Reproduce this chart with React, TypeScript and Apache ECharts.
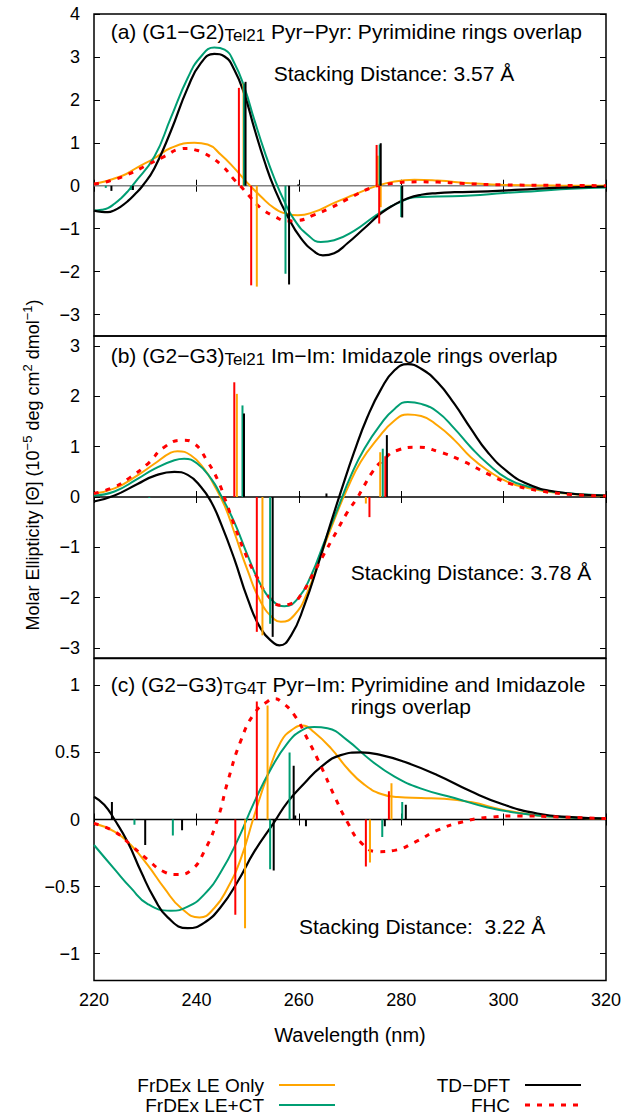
import React, { useEffect, useRef } from "react";
import * as echarts from "echarts";

const FONT = "'Liberation Sans', Arial, Helvetica, sans-serif";

const COLOR_LE = "#FFA500";
const COLOR_CT = "#009E73";
const COLOR_TD = "#000000";
const COLOR_FHC = "#FF0000";

const X_MIN = 220;
const X_MAX = 320;
const X_STEP = 20;

const yTicksA = [-3, -2, -1, 0, 1, 2, 3, 4];
const yTicksB = [-3, -2, -1, 0, 1, 2, 3];
const yTicksC = [-1, -0.5, 0, 0.5, 1];

// ---- (a) (G1-G2) Tel21, Pyr-Pyr ----
const leOnlyA = [
  [220, 0.04], [225.3, 0.22], [228.5, 0.43], [231.8, 0.64], [235, 0.88], [239.6, 1.0],
  [242.2, 0.96], [244.8, 0.72], [247.4, 0.41], [250, 0.06], [252.6, -0.25], [255.2, -0.52],
  [257.8, -0.66], [259.8, -0.69], [263, -0.61], [266.9, -0.4], [270.8, -0.21], [274.8, -0.02],
  [278.7, 0.1], [282.6, 0.14], [287.1, 0.12], [293.6, 0.06], [300.1, 0.02], [310, 0.005], [320, 0],
];
const leCtA = [
  [220, -0.58], [221.5, -0.56], [222.7, -0.52], [224, -0.42], [225.3, -0.29], [226.6, -0.13],
  [227.9, 0.06], [231.8, 0.68], [235, 1.58],
  [238.3, 2.51], [240.9, 3.01], [243.5, 3.22], [245.5, 3.17], [247.4, 2.86], [249.4, 2.28],
  [251.3, 1.54], [253.3, 0.8], [255.2, 0.18], [257.2, -0.37], [259.1, -0.79], [261.7, -1.14],
  [264.3, -1.31], [266.9, -1.27], [270.8, -1.05], [274.8, -0.71], [277.4, -0.52], [280, -0.37],
  [282.6, -0.27], [287.1, -0.25], [293.6, -0.23], [300.1, -0.17], [306.6, -0.12], [313.2, -0.07],
  [320, -0.04],
];
const tddftA = [
  [220, -0.58], [221.5, -0.61], [222.7, -0.615], [224, -0.57], [225.3, -0.48], [226.6, -0.36],
  [227.9, -0.21], [229.5, 0], [231.8, 0.41],
  [235, 1.27], [238.3, 2.28], [240.9, 2.86], [243.5, 3.07], [245.5, 3.01], [247.4, 2.7],
  [249.4, 2.12], [251.3, 1.34], [253.3, 0.57], [255.2, -0.05], [257.8, -0.71], [260.4, -1.22],
  [263, -1.53], [264.7, -1.62], [266.9, -1.57], [269.5, -1.34], [272.8, -0.99], [276.1, -0.64],
  [278.7, -0.44], [281.3, -0.29], [283.9, -0.21], [287.1, -0.17], [290.4, -0.15], [296.9, -0.13],
  [303.4, -0.09], [309.9, -0.05], [320, -0.02],
];
const fhcA = [
  [220, 0.04], [222.7, 0.1], [226.6, 0.26], [230.5, 0.49], [233.7, 0.68], [237, 0.86],
  [238.3, 0.87], [239.6, 0.84], [241.5, 0.76], [244.8, 0.49], [247.4, 0.14], [248.7, -0.02], [250.7, -0.29],
  [252.6, -0.52], [255.2, -0.71], [257.8, -0.82], [259.8, -0.81], [263, -0.68], [266.3, -0.51],
  [270.2, -0.27], [274.1, -0.05], [277.4, 0.04], [283.2, 0.09], [287.1, 0.085], [292.3, 0.05],
  [300.1, 0.02], [309.9, 0.01], [320, 0],
];
const leOnlySticksA = [[249.2, 2.38], [251.8, -2.35], [275.4, 0.7], [276.0, -0.5]];
const leCtSticksA = [[222.3, -0.05], [227.2, -0.1], [249.3, 2.38], [257.4, -2.05], [275.8, 0.96], [280.0, -0.73]];
const tddftSticksA = [[223.4, -0.12], [227.6, -0.1], [249.6, 2.42], [258.1, -2.3], [259.9, 0.03], [276.0, 0.99], [280.2, -0.74]];
const fhcSticksA = [[248.3, 2.28], [250.7, -2.32], [275.2, 0.95], [275.7, -0.88]];

// ---- (b) (G2-G3) Tel21, Im-Im ----
const leOnlyB = [
  [220, 0.07], [224, 0.17], [228.5, 0.43], [231.8, 0.66], [235, 0.88], [236.3, 0.91],
  [238.9, 0.83], [241.5, 0.56], [243.5, 0.23], [245.5, -0.17], [247.4, -0.7], [250, -1.46],
  [252.6, -2.09], [255.2, -2.43], [256.5, -2.48], [259.1, -2.35], [261.7, -1.89], [264.3, -1.16],
  [266.9, -0.46], [269.5, 0.17], [272.1, 0.7], [275.4, 1.16], [278.7, 1.52], [281.3, 1.64],
  [283.9, 1.61], [287.1, 1.42], [290.4, 1.13], [293.6, 0.79], [296.9, 0.53], [300.8, 0.3],
  [304.7, 0.18], [309.9, 0.09], [320, 0.02],
];
const leCtB = [
  [220, 0.03], [224, 0.11], [228.5, 0.36], [231.8, 0.56], [235.7, 0.73], [237.6, 0.76],
  [240.2, 0.66], [242.9, 0.36], [244.8, 0.03], [247.4, -0.5], [250, -1.16], [252.6, -1.75],
  [255.2, -2.09], [257.2, -2.17], [259.8, -2.02], [262.4, -1.56], [265, -0.89], [267.6, -0.23],
  [270.2, 0.43], [272.8, 0.96], [276.1, 1.46], [278.7, 1.75], [281.3, 1.89], [283.9, 1.85],
  [287.1, 1.69], [290.4, 1.36], [293.6, 0.99], [296.9, 0.66], [300.8, 0.36], [304.7, 0.21],
  [309.9, 0.1], [320, 0.03],
];
const tddftB = [
  [220, -0.09], [224, 0.03], [228.5, 0.26], [231.8, 0.42], [235.7, 0.5], [238.3, 0.44],
  [240.9, 0.2], [242.9, -0.1], [244.8, -0.53], [247.4, -1.23], [250, -2.02], [252.6, -2.62],
  [255.2, -2.91], [256.2, -2.95], [258.5, -2.75], [261.1, -2.15], [263.7, -1.36], [266.3, -0.5],
  [268.2, 0.1], [270.8, 0.89], [273.4, 1.59], [276.1, 2.15], [278.7, 2.52], [281.3, 2.64],
  [283.9, 2.55], [287.1, 2.28], [290.4, 1.85], [293.6, 1.36], [296.9, 0.89], [300.8, 0.5],
  [304.7, 0.26], [309.9, 0.11], [320, 0.03],
];
const fhcB = [
  [220, 0.07], [224, 0.2], [227.2, 0.4], [230.5, 0.66], [233.7, 0.99], [237.3, 1.13],
  [239.6, 1.06], [242.2, 0.7], [244.2, 0.33], [245.8, -0.1], [247.4, -0.56], [250, -1.23],
  [252, -1.62], [253.9, -1.95], [256.5, -2.15], [258.5, -2.12], [260.4, -1.95], [263, -1.49],
  [264.3, -1.25], [267.3, -0.7], [269.5, -0.3], [271.4, -0.02], [272.8, 0.23], [274.4, 0.5],
  [276.1, 0.7], [279.3, 0.93], [283.2, 0.99], [287.1, 0.91], [292.3, 0.7], [296.9, 0.46],
  [301.4, 0.26], [306.7, 0.13], [313.2, 0.05], [320, 0.02],
];
const leOnlySticksB = [[247.9, 2.05], [252.9, -2.75], [273.1, -0.13], [275.9, 0.89]];
const leCtSticksB = [[230.8, -0.02], [249.0, 1.82], [254.4, -2.52], [276.4, 0.96]];
const tddftSticksB = [[249.3, 1.66], [254.9, -2.78], [260.2, 0.02], [265.4, 0.07], [277.2, 1.23]];
const fhcSticksB = [[247.4, 2.28], [251.8, -2.68], [273.8, -0.4], [276.9, 0.81]];

// ---- (c) (G2-G3) TG4T, Pyr-Im ----
const leOnlyC = [
  [220, -0.03], [224, -0.09], [227.2, -0.19], [230.5, -0.34], [233.7, -0.51], [237, -0.66],
  [240.6, -0.73], [243.5, -0.66], [246.1, -0.51], [248.7, -0.29], [251.3, 0.03], [253.9, 0.33],
  [256.5, 0.58], [259.1, 0.68], [260.8, 0.7], [263, 0.65], [266.3, 0.53], [269.5, 0.38],
  [272.8, 0.26], [276.1, 0.19], [279.3, 0.167], [283.9, 0.16], [288.4, 0.155], [293.6, 0.13],
  [300.1, 0.07], [306.6, 0.03], [313.2, 0.015], [320, 0.005],
];
const leCtC = [
  [220, -0.19], [224, -0.37], [227.2, -0.51], [230.5, -0.63], [235, -0.68], [238.3, -0.65],
  [241.5, -0.56], [244.8, -0.39], [248.1, -0.15], [251.3, 0.13], [254.6, 0.38], [257.8, 0.57],
  [260.4, 0.66], [263, 0.69], [265.6, 0.68], [269.5, 0.59], [274.1, 0.44], [278.7, 0.32],
  [283.9, 0.23], [290.4, 0.16], [296.9, 0.09], [303.4, 0.045], [309.9, 0.02], [320, 0.007],
];
const tddftC = [
  [220, 0.17], [222, 0.11], [224, 0], [226.6, -0.17], [229.2, -0.39], [231.8, -0.59],
  [234.4, -0.73], [238.3, -0.81], [241.5, -0.77], [244.8, -0.65], [248.1, -0.46], [251.3, -0.24],
  [255.2, -0.02], [257.8, 0.13], [261.1, 0.27], [264.3, 0.39], [268.2, 0.48], [272.1, 0.5],
  [276.1, 0.48], [280.6, 0.43], [287.1, 0.33], [293.6, 0.21], [300.1, 0.11], [306.6, 0.045],
  [313.2, 0.017], [320, 0.007],
];
const fhcC = [
  [220, -0.03], [224, -0.09], [227.2, -0.19], [230.5, -0.3], [233.7, -0.39], [236.3, -0.41],
  [238.9, -0.38], [241.5, -0.24], [244.2, 0.01], [246.1, 0.28], [248.7, 0.59], [251.3, 0.79],
  [253.9, 0.88], [255.2, 0.9], [256.5, 0.88], [259.1, 0.78], [261.7, 0.6], [264.3, 0.4], [266.9, 0.18],
  [269.5, -0.02], [272.1, -0.17], [275.4, -0.24], [278.7, -0.23], [282.6, -0.17], [287.1, -0.08],
  [291.7, -0.02], [296.9, 0.015], [303.4, 0.027], [309.9, 0.02], [320, 0.007],
];
const leOnlySticksC = [[249.5, -0.81], [253.9, 0.85], [273.9, -0.32], [278.1, 0.27]];
const leCtSticksC = [[227.9, -0.04], [235.4, -0.12], [254.4, -0.37], [258.2, 0.5], [276.3, -0.13], [280.2, 0.13]];
const tddftSticksC = [[223.5, 0.13], [230.0, -0.19], [237.2, -0.08], [255.1, -0.38], [259.0, 0.4], [259.3, 0.03], [261.4, -0.05], [276.8, -0.05], [280.9, 0.11]];
const fhcSticksC = [[247.6, -0.71], [251.8, 0.88], [273.1, -0.35], [277.6, 0.21]];

const panels = [
  {
    range: [-3.5, 4], ticks: yTicksA, zeroColor: "#808080",
    curves: [leOnlyA, leCtA, tddftA, fhcA],
    sticks: [leOnlySticksA, leCtSticksA, tddftSticksA, fhcSticksA],
  },
  {
    range: [-3.2, 3.2], ticks: yTicksB, zeroColor: "#000000",
    curves: [leOnlyB, leCtB, tddftB, fhcB],
    sticks: [leOnlySticksB, leCtSticksB, tddftSticksB, fhcSticksB],
  },
  {
    range: [-1.2, 1.2], ticks: yTicksC, zeroColor: "#000000",
    curves: [leOnlyC, leCtC, tddftC, fhcC],
    sticks: [leOnlySticksC, leCtSticksC, tddftSticksC, fhcSticksC],
  },
];

const methods = [
  { name: "FrDEx LE Only", color: COLOR_LE, dash: null as number[] | null, width: 2 },
  { name: "FrDEx LE+CT", color: COLOR_CT, dash: null as number[] | null, width: 2 },
  { name: "TD\u2212DFT", color: COLOR_TD, dash: null as number[] | null, width: 2.2 },
  { name: "FHC", color: COLOR_FHC, dash: [5, 7], width: 3 },
];

const GRID_LEFT = 94;
const GRID_RIGHT = 22;
const GRID_TOPS = [14, 336, 658.5];
const GRID_H = 322;

const fmt = (v: number) => (v < 0 ? "\u2212" + Math.abs(v) : String(v));

function buildOption() {
  const grid = GRID_TOPS.map((top) => ({
    left: GRID_LEFT, right: GRID_RIGHT, top, height: GRID_H,
    show: true, borderColor: "#000", borderWidth: 1.5, backgroundColor: "transparent",
  }));

  const tick = { show: true, inside: true, length: 6, lineStyle: { color: "#000", width: 1 } };

  const xAxis: any[] = [];
  const yAxis: any[] = [];
  panels.forEach((p, i) => {
    xAxis.push({
      type: "value", gridIndex: i, min: X_MIN, max: X_MAX, interval: X_STEP, position: "bottom",
      axisLine: { show: false }, splitLine: { show: false }, axisTick: tick,
      axisLabel: { show: i === 2, margin: 10, fontSize: 18, color: "#000", fontFamily: FONT },
      name: i === 2 ? "Wavelength (nm)" : "", nameLocation: "middle", nameGap: 44,
      nameTextStyle: { fontSize: 20, color: "#000", fontFamily: FONT },
    });
    yAxis.push({
      type: "value", gridIndex: i, min: p.range[0], max: p.range[1], position: "left",
      axisLine: { show: false }, splitLine: { show: false },
      axisTick: { ...tick, customValues: p.ticks },
      axisLabel: { customValues: p.ticks, formatter: fmt, margin: 14, fontSize: 18, color: "#000", fontFamily: FONT },
    });
  });
  // mirrored ticks on the top and right edges of every panel
  panels.forEach((p, i) => {
    xAxis.push({
      type: "value", gridIndex: i, min: X_MIN, max: X_MAX, interval: X_STEP, position: "top",
      axisLine: { show: false }, splitLine: { show: false }, axisTick: tick, axisLabel: { show: false },
    });
    yAxis.push({
      type: "value", gridIndex: i, min: p.range[0], max: p.range[1], position: "right",
      axisLine: { show: false }, splitLine: { show: false },
      axisTick: { ...tick, customValues: p.ticks }, axisLabel: { show: false },
    });
  });

  const series: any[] = [];
  panels.forEach((p, i) => {
    series.push({
      type: "line", xAxisIndex: i, yAxisIndex: i, silent: true, showSymbol: false,
      data: [[X_MIN, 0], [X_MAX, 0]],
      lineStyle: { color: p.zeroColor, width: 1.5 }, z: 1,
    });
    p.curves.forEach((data, k) => {
      const m = methods[k];
      series.push({
        name: m.name, type: "line", xAxisIndex: i, yAxisIndex: i, data,
        smooth: 0.5, showSymbol: false, silent: true, z: 2 + k,
        lineStyle: { color: m.color, width: m.width, type: m.dash ? m.dash : "solid", cap: "butt" },
      });
    });
    p.sticks.forEach((data, k) => {
      const m = methods[k];
      series.push({
        name: m.name + " sticks", type: "custom", xAxisIndex: i, yAxisIndex: i, data,
        encode: { x: 0, y: 1 }, silent: true, z: 8, clip: true,
        renderItem: (_params: any, api: any) => {
          const x = api.value(0);
          const y = api.value(1);
          const a = api.coord([x, 0]);
          const b = api.coord([x, y]);
          return {
            type: "line",
            shape: { x1: a[0], y1: a[1], x2: b[0], y2: b[1] },
            style: { stroke: m.color, lineWidth: 2 },
          };
        },
      });
    });
  });

  const main = { fontSize: 21, fontFamily: FONT, fill: "#000", lineHeight: 26 };
  const sub = { fontSize: 17, fontFamily: FONT, fill: "#000", lineHeight: 17, verticalAlign: "bottom" };
  const plain = (text: string, x: number, y: number, extra: any = {}) => ({
    type: "text", x, y, silent: true,
    style: { text, fontSize: 21, fontFamily: FONT, fill: "#000", align: "left", verticalAlign: "middle", ...extra },
  });
  const titled = (head: string, subText: string, tail: string, x: number, y: number) => ({
    type: "text", x, y, silent: true,
    style: {
      text: `{m|${head}}{s|${subText}}{m|${tail}}`,
      rich: { m: main, s: sub }, fill: "#000", fontFamily: FONT, fontSize: 21,
      align: "left", verticalAlign: "top",
    },
  });

  // key, two columns: label right-aligned, sample line after it
  const legendRows = [
    { m: methods[0], tx: 264, lx: 279, y: 1085 },
    { m: methods[1], tx: 264, lx: 279, y: 1105 },
    { m: methods[2], tx: 510, lx: 525, y: 1085 },
    { m: methods[3], tx: 510, lx: 525, y: 1105 },
  ];
  const legendEls: any[] = [];
  legendRows.forEach((r) => {
    legendEls.push(plain(r.m.name, r.tx, r.y, { align: "right", fontSize: 19, lineHeight: 19 }));
    legendEls.push({
      type: "line", silent: true,
      shape: { x1: r.lx, y1: r.y, x2: r.lx + 56, y2: r.y },
      style: { stroke: r.m.color, lineWidth: r.m.dash ? 3 : 2, lineDash: r.m.dash || undefined },
    });
  });

  const yTitle = {
    type: "text", x: 33, y: 465, rotation: Math.PI / 2, silent: true,
    style: {
      text: "{m|Molar Ellipticity [\u0398] (10}{p|\u22125}{m| deg cm}{p|2}{m| dmol}{p|\u22121}{m|)}",
      rich: {
        m: { fontSize: 18, fontFamily: FONT, fill: "#000", lineHeight: 24 },
        p: { fontSize: 13, fontFamily: FONT, fill: "#000", lineHeight: 13, verticalAlign: "top" },
      },
      fill: "#000", fontFamily: FONT, fontSize: 18, align: "center", verticalAlign: "middle",
    },
  };

  const graphic = [
    titled("(a) (G1\u2212G2)", "Tel21", " Pyr\u2212Pyr: Pyrimidine rings overlap", 110.7, 18.3),
    plain("Stacking Distance: 3.57 \u00C5", 273.7, 73.3),
    titled("(b) (G2\u2212G3)", "Tel21", " Im\u2212Im: Imidazole rings overlap", 110.7, 342.3),
    plain("Stacking Distance: 3.78 \u00C5", 350.7, 572),
    titled("(c) (G2\u2212G3)", "TG4T", " Pyr\u2212Im:", 110.7, 671.3),
    plain("Pyrimidine and Imidazole\nrings overlap", 350.7, 673.4, { verticalAlign: "top", lineHeight: 22 }),
    plain("Stacking Distance:  3.22 \u00C5", 299, 926),
    yTitle,
    ...legendEls,
  ];

  return {
    animation: false,
    backgroundColor: "#fff",
    textStyle: { fontFamily: FONT },
    grid, xAxis, yAxis, series, graphic,
  };
}

export default function App() {
  const ref = useRef<HTMLDivElement>(null);
  useEffect(() => {
    document.body.style.margin = "0";
    if (!ref.current) return;
    const chart = echarts.init(ref.current, undefined, { renderer: "svg" });
    chart.setOption(buildOption() as any);
    return () => chart.dispose();
  }, []);
  return <div ref={ref} style={{ width: 628, height: 1115 }} />;
}
